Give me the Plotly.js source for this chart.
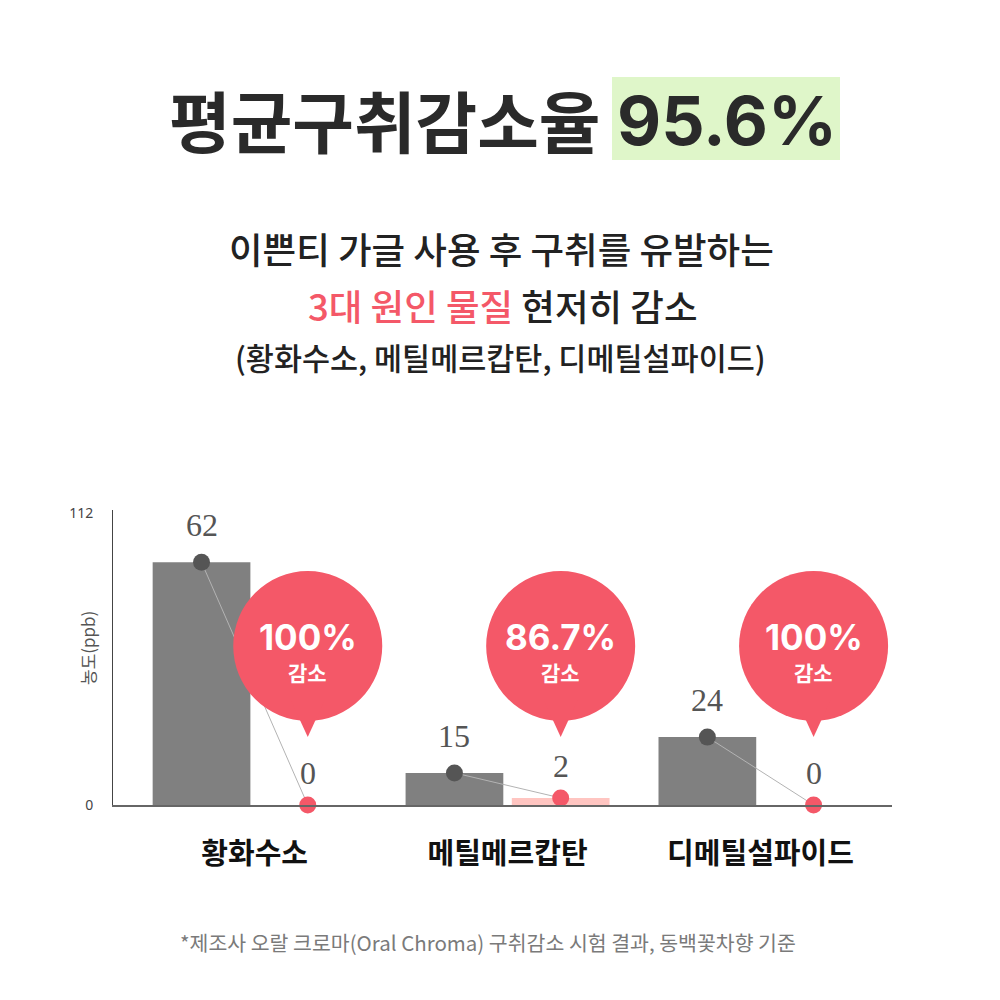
<!DOCTYPE html>
<html>
<head>
<meta charset="utf-8">
<script src="https://cdn.plot.ly/plotly-3.0.1.min.js"></script>
<style>html,body{margin:0;padding:0;background:#fff;}#chart{width:1000px;height:1000px;}</style>
</head>
<body>
<div id="chart"></div>
<script>
// ---- data ----
const categories = ['황화수소', '메틸메르캅탄', '디메틸설파이드'];
const beforeLabels = [62, 15, 24];          // printed values (ppb), before
const afterLabels = [0, 2, 0];              // printed values (ppb), after
const beforeBarHeights = [93, 12.3, 26];    // bar heights as drawn against the axis
const afterBarHeights = [0, 2.7, 0];
const reductionLabels = ['100%', '86.7%', '100%'];
const yTickValues = [0, 112];
const yTickLabels = ['0', '112'];

// ---- layout helpers ----
const L = 113, R = 108, T = 510, B = 195, W = 1000, H = 1000;
const plotW = W - L - R, plotH = H - T - B;
const pxX = p => (p - L) / plotW;
const pxY = p => (H - B - p) / plotH;
const bargap = 0.16;
const off = (1 - bargap) / 4;
const xs = categories.map((c, i) => i);
const RED = '#f45868';
const KR = '"Noto Sans CJK KR", "Noto Sans", sans-serif';
const LAT = 'Inter, "Noto Sans CJK KR", sans-serif';

const lineX = [], lineY = [];
xs.forEach((x, i) => { lineX.push(x - off, x + off, null); lineY.push(beforeBarHeights[i], afterBarHeights[i], null); });

const traces = [
  {type: 'bar', x: xs, y: beforeBarHeights, marker: {color: '#808080'}, hoverinfo: 'skip'},
  {type: 'bar', x: xs, y: afterBarHeights, marker: {color: '#ffc5c1'}, hoverinfo: 'skip'},
  {type: 'scatter', mode: 'lines', x: lineX, y: lineY, line: {color: '#b3b3b3', width: 1}, connectgaps: false, cliponaxis: false, hoverinfo: 'skip'},
  {type: 'scatter', mode: 'markers', x: xs.map(x => x - off), y: beforeBarHeights, marker: {color: '#555555', size: 17}, cliponaxis: false, hoverinfo: 'skip'},
  {type: 'scatter', mode: 'markers', x: xs.map(x => x + off), y: afterBarHeights, marker: {color: RED, size: 17}, cliponaxis: false, hoverinfo: 'skip'}
];

const annotations = [];
const shapes = [];

// value labels
xs.forEach((x, i) => {
  annotations.push({x: x - off, y: beforeBarHeights[i], xref: 'x', yref: 'y', text: String(beforeLabels[i]), showarrow: false, xanchor: 'center', yanchor: 'middle', yshift: 37,
    font: {family: '"Liberation Serif", "DejaVu Serif", serif', size: 32, color: '#555'}});
  annotations.push({x: x + off, y: afterBarHeights[i], xref: 'x', yref: 'y', text: String(afterLabels[i]), showarrow: false, xanchor: 'center', yanchor: 'middle', yshift: 32,
    font: {family: '"Liberation Serif", "DejaVu Serif", serif', size: 32, color: '#555'}});
  // callout bubble
  const cy = pxY(646);
  shapes.push({type: 'circle', layer: 'above', xref: 'x', yref: 'paper', xsizemode: 'pixel', ysizemode: 'pixel', xanchor: x + off, yanchor: cy,
    x0: -74.5, x1: 74.5, y0: -75, y1: 75, fillcolor: RED, line: {width: 0}});
  shapes.push({type: 'path', layer: 'above', xref: 'x', yref: 'paper', xsizemode: 'pixel', ysizemode: 'pixel', xanchor: x + off, yanchor: cy,
    path: 'M -17 -54 L 17 -54 L 0 -91 Z', fillcolor: RED, line: {width: 0}});
  annotations.push({x: x + off, y: pxY(637), xref: 'x', yref: 'paper', text: reductionLabels[i], showarrow: false, xanchor: 'center', yanchor: 'middle',
    font: {family: LAT, size: 35, color: '#fff', weight: 700}});
  annotations.push({x: x + off, y: pxY(672), xref: 'x', yref: 'paper', text: '감소', showarrow: false, xanchor: 'center', yanchor: 'middle',
    font: {family: KR, size: 21, color: '#fff', weight: 700}});
});

// y-axis title
annotations.push({x: pxX(87), y: pxY(648), xref: 'paper', yref: 'paper', xanchor: 'center', yanchor: 'middle', text: '농도(ppb)', textangle: -90, showarrow: false,
  font: {family: KR, size: 17, color: '#555'}});

// headline
shapes.push({type: 'rect', xref: 'paper', yref: 'paper', x0: pxX(612), x1: pxX(840), y0: pxY(160), y1: pxY(77), fillcolor: '#dff6c9', line: {width: 0}, layer: 'below'});
annotations.push({x: pxX(602), y: pxY(119), xref: 'paper', yref: 'paper', xanchor: 'right', yanchor: 'middle', text: '평균구취감소율', showarrow: false,
  font: {family: KR, size: 67, color: '#2a2a2a', weight: 700}});
annotations.push({x: pxX(727), y: pxY(120), xref: 'paper', yref: 'paper', xanchor: 'center', yanchor: 'middle', text: '95.6%', showarrow: false,
  font: {family: LAT, size: 68, color: '#2a2a2a', weight: 700}});

// subtitle lines
annotations.push({x: pxX(501), y: pxY(248), xref: 'paper', yref: 'paper', xanchor: 'center', yanchor: 'middle', text: '이쁜티 가글 사용 후 구취를 유발하는', showarrow: false,
  font: {family: KR, size: 36.5, color: '#222', weight: 500}});
annotations.push({x: pxX(502), y: pxY(305), xref: 'paper', yref: 'paper', xanchor: 'center', yanchor: 'middle',
  text: '<span style="color:' + RED + '">3대 원인 물질</span> 현저히 감소', showarrow: false,
  font: {family: KR, size: 36.5, color: '#222', weight: 500}});
annotations.push({x: pxX(500), y: pxY(357), xref: 'paper', yref: 'paper', xanchor: 'center', yanchor: 'middle', text: '(황화수소, 메틸메르캅탄, 디메틸설파이드)', showarrow: false,
  font: {family: KR, size: 30.5, color: '#222', weight: 500}});

// footnote
annotations.push({x: pxX(488), y: pxY(942), xref: 'paper', yref: 'paper', xanchor: 'center', yanchor: 'middle', text: '*제조사 오랄 크로마(Oral Chroma) 구취감소 시험 결과, 동백꽃차향 기준', showarrow: false,
  font: {family: KR, size: 20.5, color: '#7a7a7a'}});

const layout = {
  width: W, height: H,
  margin: {l: L, r: R, t: T, b: B, pad: 0},
  paper_bgcolor: '#fff', plot_bgcolor: '#fff',
  showlegend: false,
  barmode: 'group', bargap: bargap, bargroupgap: 0.08,
  xaxis: {type: 'linear', range: [-0.56, 2.52], tickvals: xs, ticktext: categories, showgrid: false, zeroline: false,
    showline: true, linecolor: '#666', linewidth: 2, ticks: '', ticklabelstandoff: 22,
    tickfont: {family: KR, size: 29, color: '#111', weight: 700}, fixedrange: true},
  yaxis: {range: [0, 113], tickvals: yTickValues, ticktext: yTickLabels, showgrid: false, zeroline: false,
    showline: true, linecolor: '#444', linewidth: 1, ticks: '', ticklabelstandoff: 16,
    tickfont: {family: '"Noto Sans", sans-serif', size: 14, color: '#444'}, fixedrange: true},
  annotations: annotations,
  shapes: shapes
};

Plotly.newPlot('chart', traces, layout, {displayModeBar: false, staticPlot: true});
</script>
</body>
</html>
